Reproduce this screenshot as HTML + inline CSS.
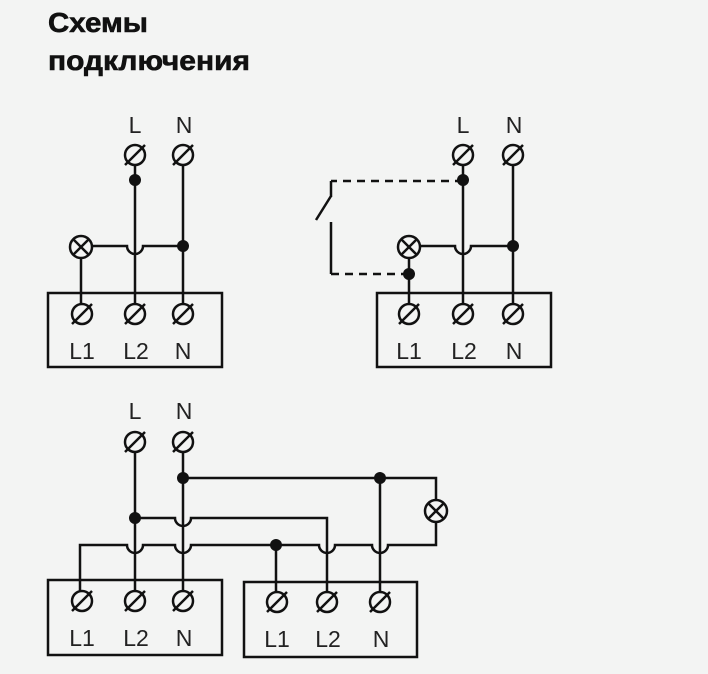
<!DOCTYPE html>
<html><head><meta charset="utf-8"><style>
html,body{margin:0;padding:0;background:#f3f4f3;}
svg{display:block}
</style></head><body>
<svg width="708" height="674" viewBox="0 0 708 674" xmlns="http://www.w3.org/2000/svg">
<defs>
<g id="t"><circle r="10" fill="none" stroke="#111" stroke-width="2.5"/><line x1="-10" y1="10" x2="10" y2="-10" stroke="#111" stroke-width="2.5"/></g>
<g id="lamp"><circle r="11" fill="#f3f4f3" stroke="#111" stroke-width="2.5"/><line x1="-7.5" y1="-7.5" x2="7.5" y2="7.5" stroke="#111" stroke-width="2.5"/><line x1="-7.5" y1="7.5" x2="7.5" y2="-7.5" stroke="#111" stroke-width="2.5"/></g>
</defs>
<g font-family="Liberation Sans, DejaVu Sans, sans-serif" font-weight="bold" font-size="28" fill="#111" stroke="#111" stroke-width="0.6">
<text x="48" y="32" textLength="100" lengthAdjust="spacingAndGlyphs">Схемы</text>
<text x="48" y="70" textLength="202" lengthAdjust="spacingAndGlyphs">подключения</text>
</g>
<g fill="none" stroke="#111" stroke-width="2.5">
<!-- Diagram 1 -->
<rect x="48" y="293" width="174" height="74"/>
<line x1="135" y1="165" x2="135" y2="304"/>
<line x1="183" y1="165" x2="183" y2="304"/>
<line x1="81" y1="258" x2="81" y2="304"/>
<path d="M91 246 H127 a8 8 0 0 0 16 0 H183"/>
<!-- Diagram 2 -->
<rect x="377" y="293" width="174" height="74"/>
<line x1="463" y1="165" x2="463" y2="304"/>
<line x1="513" y1="165" x2="513" y2="304"/>
<line x1="409" y1="258" x2="409" y2="304"/>
<path d="M419 246 H455 a8 8 0 0 0 16 0 H513"/>
<path d="M463 181 H331" stroke-dasharray="8 6"/>
<path d="M331 181 V197 M316 220 L331 196 M331 222 V274"/>
<path d="M331 274 H409" stroke-dasharray="8 6"/>
<!-- Diagram 3 -->
<rect x="48" y="580" width="174" height="75"/>
<rect x="244" y="582" width="173" height="75"/>
<line x1="135" y1="452" x2="135" y2="591"/>
<line x1="183" y1="452" x2="183" y2="591"/>
<path d="M183 478 H436 V500"/>
<path d="M436 522 V545 H388 a8 8 0 0 1 -16 0 H335 a8 8 0 0 1 -16 0 H191 a8 8 0 0 1 -16 0 H143 a8 8 0 0 1 -16 0 H80 V591"/>
<path d="M135 518 H175 a8 8 0 0 0 16 0 H327 V592"/>
<line x1="380" y1="478" x2="380" y2="592"/>
<line x1="276" y1="545" x2="276" y2="592"/>
</g>
<use href="#t" x="135" y="155"/><use href="#t" x="183" y="155"/>
<use href="#t" x="82" y="314"/><use href="#t" x="135" y="314"/><use href="#t" x="183" y="314"/>
<use href="#t" x="463" y="155"/><use href="#t" x="513" y="155"/>
<use href="#t" x="409" y="314"/><use href="#t" x="463" y="314"/><use href="#t" x="513" y="314"/>
<use href="#t" x="135" y="442"/><use href="#t" x="183" y="442"/>
<use href="#t" x="82" y="601"/><use href="#t" x="135" y="601"/><use href="#t" x="183" y="601"/>
<use href="#t" x="277" y="602"/><use href="#t" x="327" y="602"/><use href="#t" x="380" y="602"/>
<use href="#lamp" x="81" y="247"/>
<use href="#lamp" x="409" y="247"/>
<use href="#lamp" x="436" y="511"/>
<g fill="#111">
<circle cx="135" cy="180" r="6"/><circle cx="183" cy="246" r="6"/>
<circle cx="463" cy="180" r="6"/><circle cx="513" cy="246" r="6"/><circle cx="409" cy="274" r="6"/>
<circle cx="183" cy="478" r="6"/><circle cx="380" cy="478" r="6"/><circle cx="135" cy="518" r="6"/><circle cx="276" cy="545" r="6"/>
</g>
<g font-family="Liberation Sans, DejaVu Sans, sans-serif" font-size="23" fill="#222" text-anchor="middle">
<text x="135" y="133">L</text><text x="184" y="133">N</text>
<text x="82" y="359">L1</text><text x="136" y="359">L2</text><text x="183" y="359">N</text>
<text x="463" y="133">L</text><text x="514" y="133">N</text>
<text x="409" y="359">L1</text><text x="464" y="359">L2</text><text x="514" y="359">N</text>
<text x="135" y="419">L</text><text x="184" y="419">N</text>
<text x="82" y="646">L1</text><text x="136" y="646">L2</text><text x="184" y="646">N</text>
<text x="277" y="647">L1</text><text x="328" y="647">L2</text><text x="381" y="647">N</text>
</g>
</svg>
</body></html>
